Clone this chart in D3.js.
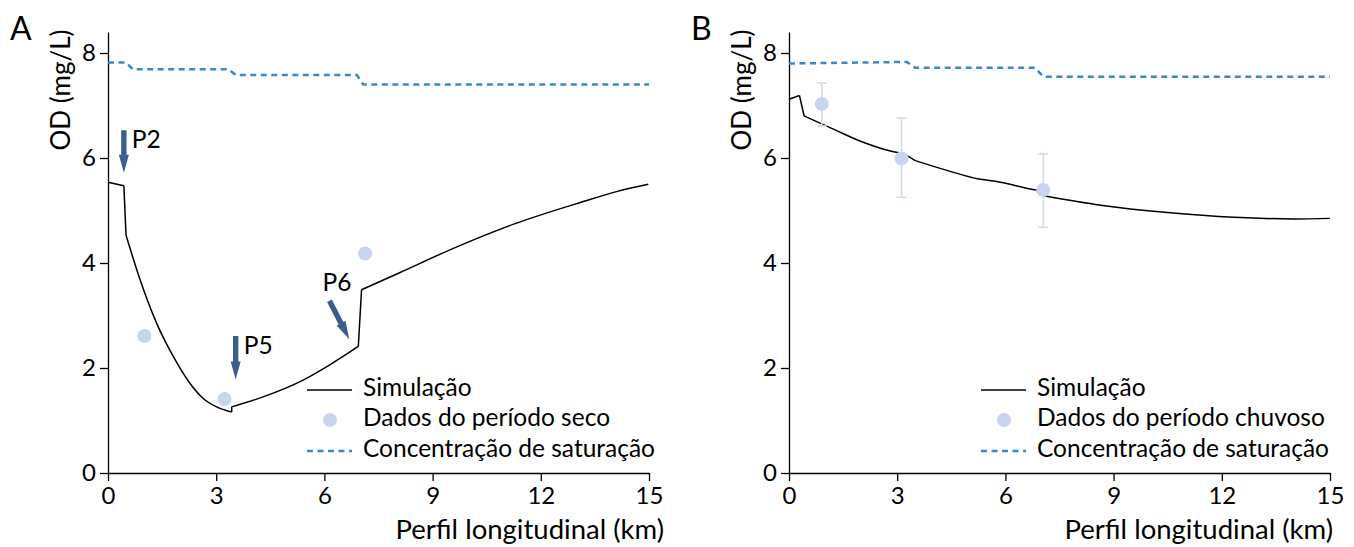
<!DOCTYPE html>
<html lang="pt">
<head>
  <meta charset="UTF-8">
  <title>OD - perfil longitudinal</title>
  <script src="https://d3js.org/d3.v7.min.js"></script>
</head>
<style>
  body { margin: 0; background: #fff; }
  svg text { font-family: Lato, "Open Sans", sans-serif; fill: #000; }
  .axis path, .axis line { stroke: #000; stroke-width: 1.3px; }
  .axis text { font-size: 24px; }
  .legend text { font-size: 24.5px; }
  .sim { fill: none; stroke: #000; stroke-width: 1.5px; }
  .sat { fill: none; stroke: #3a87cd; stroke-width: 2.5px; stroke-dasharray: 6 4.5; }
  .obs { fill: #c9d5ef; }
  .err { stroke: #d2d9f0; stroke-width: 1.6px; }
  .arrow { fill: #3b5e8c; }
</style>
<body>
<svg id="chart" width="1354" height="547"></svg>

<script>
  // tick values shared by both panels
  const xTicks = [0, 3, 6, 9, 12, 15];
  const yTicks = [0, 2, 4, 6, 8];

  // panel A - periodo seco; simulation split into pieces at the sharp steps
  const simA = [
    [[0, 5.54], [0.44, 5.47]],
    [[0.44, 5.47], [0.5, 4.53]],
    [[0.5, 4.53], [0.89, 3.68], [1.35, 2.85], [1.81, 2.22], [2.27, 1.71], [2.64, 1.42],
     [3.01, 1.26], [3.43, 1.16]],
    [[3.43, 1.16], [3.43, 1.26]],
    [[3.43, 1.26], [4.3, 1.45], [5.41, 1.77], [6.15, 2.06], [6.94, 2.41]],
    [[6.94, 2.41], [7.03, 3.49]],
    [[7.03, 3.49], [8.1, 3.82], [9.48, 4.25], [11.33, 4.76], [13.18, 5.17], [14.1, 5.36],
     [14.98, 5.5]]
  ];
  const obsA = [[1.01, 2.61], [3.23, 1.41], [7.13, 4.18]];
  const satA = [
    [0, 7.82], [0.5, 7.82], [0.69, 7.69], [3.33, 7.69], [3.55, 7.58],
    [6.9, 7.58], [7.08, 7.4], [15, 7.4]
  ];
  // arrows: [x tail, y tail, x tip, y tip, label]
  const arrowsA = [
    [0.44, 6.53, 0.44, 5.72, "P2"],
    [3.54, 2.61, 3.54, 1.78, "P5"],
    [6.14, 3.28, 6.69, 2.55, "P6"]
  ];

  // panel B - periodo chuvoso
  const simB = [
    [[0, 7.12], [0.29, 7.19]],
    [[0.29, 7.19], [0.42, 6.8]],
    [[0.42, 6.8], [1.2, 6.56], [2.02, 6.31], [2.9, 6.12], [3.17, 6.09]],
    [[3.17, 6.09], [3.5, 5.95]],
    [[3.5, 5.95], [4.4, 5.76], [5.26, 5.6], [5.67, 5.56], [5.86, 5.54],
     [6.69, 5.41], [6.86, 5.39]],
    [[6.86, 5.39], [7.07, 5.28]],
    [[7.07, 5.28], [8.64, 5.1], [10.49, 4.96], [12.34, 4.87], [14, 4.84], [15, 4.85]]
  ];
  // [x, media, minimo, maximo]
  const obsB = [[0.91, 7.03, 6.61, 7.43], [3.12, 5.99, 5.25, 6.76], [7.05, 5.39, 4.68, 6.08]];
  const satB = [
    [0, 7.8], [3.27, 7.83], [3.5, 7.72], [6.82, 7.72], [7.05, 7.55], [15, 7.55]
  ];

  const legendA = ["Simulação", "Dados do período seco", "Concentração de saturação"];
  const legendB = ["Simulação", "Dados do período chuvoso", "Concentração de saturação"];

  const svg = d3.select("#chart");

  function drawPanel(p) {
    const x = d3.scaleLinear().domain([0, 15]).range([p.left, p.left + 541]);
    const y = d3.scaleLinear().domain([0, 8.4]).range([473, 32]);
    const g = svg.append("g");

    g.append("g").attr("class", "axis")
      .attr("transform", "translate(0,473)")
      .call(d3.axisBottom(x).tickValues(xTicks).tickSize(8).tickSizeOuter(0).tickPadding(6));
    g.append("g").attr("class", "axis")
      .attr("transform", `translate(${p.left},0)`)
      .call(d3.axisLeft(y).tickValues(yTicks).tickSize(8).tickSizeOuter(0).tickPadding(4));

    g.append("text")
      .attr("text-anchor", "middle")
      .attr("transform", `translate(${p.left - 38},90) rotate(-90)`)
      .style("font-size", "26px")
      .text("OD (mg/L)");
    g.append("text")
      .attr("x", x(15) + p.xTitleShift).attr("y", 539)
      .attr("text-anchor", "end")
      .style("font-size", "27.5px")
      .text("Perfil longitudinal (km)");
    g.append("text")
      .attr("x", p.left - 98).attr("y", 40)
      .style("font-size", "32px")
      .text(p.letter);

    const line = d3.line().x(d => x(d[0])).y(d => y(d[1]));
    const smooth = d3.line().x(d => x(d[0])).y(d => y(d[1])).curve(d3.curveMonotoneX);
    g.append("path").attr("class", "sat").attr("d", line(p.sat));
    g.append("path").attr("class", "sim")
      .attr("d", p.sim.map(s => (s.length > 2 ? smooth(s) : line(s))).join(""));

    if (p.errors) {
      const eb = g.append("g").selectAll("g").data(p.obs).join("g");
      eb.append("line").attr("class", "err")
        .attr("x1", d => x(d[0])).attr("x2", d => x(d[0]))
        .attr("y1", d => y(d[2])).attr("y2", d => y(d[3]));
      eb.append("line").attr("class", "err")
        .attr("x1", d => x(d[0]) - 5).attr("x2", d => x(d[0]) + 5)
        .attr("y1", d => y(d[2])).attr("y2", d => y(d[2]));
      eb.append("line").attr("class", "err")
        .attr("x1", d => x(d[0]) - 5).attr("x2", d => x(d[0]) + 5)
        .attr("y1", d => y(d[3])).attr("y2", d => y(d[3]));
    }
    g.append("g").selectAll("circle")
      .data(p.obs).join("circle")
      .attr("class", "obs")
      .attr("cx", d => x(d[0])).attr("cy", d => y(d[1])).attr("r", 7);

    // arrows with labels
    (p.arrows || []).forEach(a => {
      const x1 = x(a[0]), y1 = y(a[1]), x2 = x(a[2]), y2 = y(a[3]);
      const len = Math.hypot(x2 - x1, y2 - y1);
      const ux = (x2 - x1) / len, uy = (y2 - y1) / len;
      const nx = -uy, ny = ux;
      const sw = 2.7, hw = 5, hl = 18;
      const bx = x2 - ux * hl, by = y2 - uy * hl;
      const pts = [
        [x1 + nx * sw, y1 + ny * sw], [bx + nx * sw, by + ny * sw], [bx + nx * hw, by + ny * hw],
        [x2, y2], [bx - nx * hw, by - ny * hw], [bx - nx * sw, by - ny * sw], [x1 - nx * sw, y1 - ny * sw]
      ];
      g.append("path").attr("class", "arrow").attr("d", "M" + pts.join("L") + "Z");
      const lx = a[4] == "P6" ? x1 - 7 : x1 + 8;
      const ly = a[4] == "P6" ? y1 - 10 : y1 + 18;
      g.append("text").attr("x", lx).attr("y", ly)
        .style("font-size", "24.5px").text(a[4]);
    });

    // legend
    const lg = g.append("g").attr("class", "legend");
    const lx0 = p.legX;
    const rows = [390, 420, 451];
    lg.append("line").attr("x1", lx0).attr("x2", lx0 + 45).attr("y1", rows[0]).attr("y2", rows[0])
      .attr("class", "sim");
    lg.append("circle").attr("class", "obs").attr("cx", lx0 + 23).attr("cy", rows[1]).attr("r", 7);
    lg.append("line").attr("x1", lx0).attr("x2", lx0 + 45).attr("y1", rows[2]).attr("y2", rows[2])
      .attr("class", "sat");
    lg.selectAll("text").data(p.legend).join("text")
      .attr("x", lx0 + 56)
      .attr("y", (d, i) => rows[i] + 6)
      .text(d => d);
  }

  drawPanel({
    left: 108, letter: "A", sim: simA, obs: obsA, sat: satA, arrows: arrowsA,
    legend: legendA, legX: 307, xTitleShift: 15, errors: false
  });
  drawPanel({
    left: 789, letter: "B", sim: simB, obs: obsB, sat: satB, arrows: [],
    legend: legendB, legX: 981, xTitleShift: 3, errors: true
  });
</script>
</body>
</html>
